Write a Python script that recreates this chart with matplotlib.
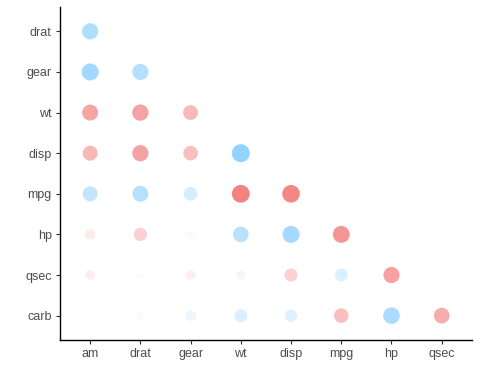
import numpy as np
import matplotlib.pyplot as plt
from matplotlib.colors import to_rgb

x_vars = ["am", "drat", "gear", "wt", "disp", "mpg", "hp", "qsec"]
y_vars = ["drat", "gear", "wt", "disp", "mpg", "hp", "qsec", "carb"]

# lower-triangle correlations, one row per y variable (columns follow x_vars)
corr_rows = [
    [0.713],
    [0.794, 0.700],
    [-0.692, -0.712, -0.583],
    [-0.591, -0.710, -0.556, 0.888],
    [0.600, 0.681, 0.480, -0.868, -0.848],
    [-0.243, -0.449, -0.126, 0.659, 0.791, -0.776],
    [-0.230, 0.091, -0.213, -0.175, -0.434, 0.419, -0.708],
    [0.058, -0.091, 0.274, 0.428, 0.395, -0.551, 0.750, -0.656],
]

pos_col = "#7FC9FF"
neg_col = "#F16464"

plt.rcParams['font.family'] = ['Liberation Sans', 'DejaVu Sans']

fig = plt.figure(figsize=(4.8, 3.84), dpi=100)
ax = fig.add_axes([0.125, 0.1146, 0.858, 0.8672])

xs, ys, sizes, colors = [], [], [], []
n_y = len(y_vars)
for i, row in enumerate(corr_rows):
    for j, r in enumerate(row):
        xs.append(j + 1)
        ys.append(n_y - i)
        d_px = np.sqrt(22 + 340 * abs(r))
        sizes.append((d_px * 0.72) ** 2)
        base = to_rgb(pos_col if r > 0 else neg_col)
        colors.append((*base, abs(r) ** 1.5))

ax.scatter(xs, ys, s=sizes, c=colors, edgecolors='none', zorder=3)

ax.set_xlim(0.4, len(x_vars) + 0.6)
ax.set_ylim(0.4, n_y + 0.6)
ax.set_xticks(range(1, len(x_vars) + 1))
ax.set_xticklabels(x_vars)
ax.set_yticks(range(n_y, 0, -1))
ax.set_yticklabels(y_vars)

for side in ["top", "right"]:
    ax.spines[side].set_visible(False)
for side in ["left", "bottom"]:
    ax.spines[side].set_linewidth(1.0)
    ax.spines[side].set_color("black")
ax.tick_params(axis='both', length=3, width=0.8, color="#333333",
               labelcolor="#4D4D4D", labelsize=9, pad=3)

fig.savefig("out.png", dpi=100)
